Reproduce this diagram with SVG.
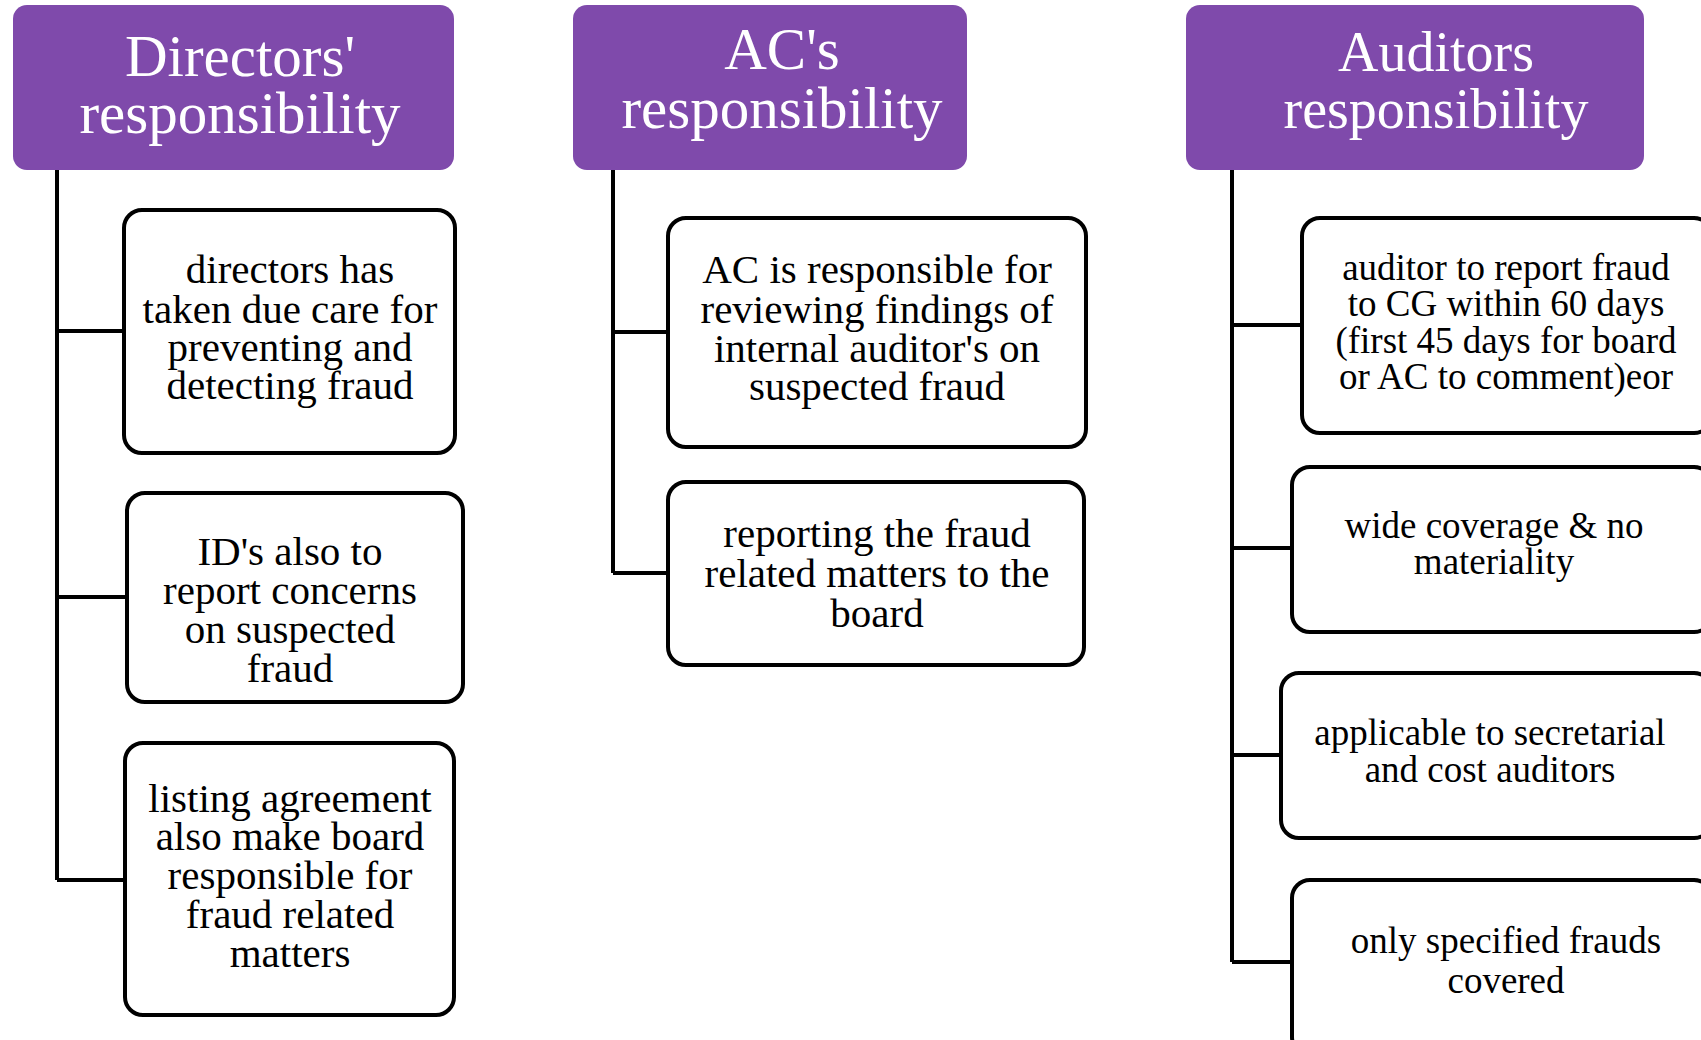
<svg xmlns="http://www.w3.org/2000/svg" width="1701" height="1040" viewBox="0 0 1701 1040">
<style>
  .hdr { fill: #7f4aab; }
  .hdr-t { font-family: "Liberation Serif", "Times New Roman", serif; font-size: 59px; fill: #ffffff; text-anchor: middle; }
  .hdr-s { font-size: 56px; }
  .box { fill: #ffffff; stroke: #000000; stroke-width: 4; }
  .t41 { font-family: "Liberation Serif", "Times New Roman", serif; font-size: 41px; fill: #000000; text-anchor: middle; }
  .t37 { font-family: "Liberation Serif", "Times New Roman", serif; font-size: 37px; fill: #000000; text-anchor: middle; }
  .conn { fill: none; stroke: #000000; stroke-width: 4; stroke-linejoin: miter; }
</style>
<rect width="1701" height="1040" fill="#ffffff"/>

<g id="connectors">
  <path class="conn" d="M57,170 V880 M57,331 H124 M57,597 H127 M57,880 H125"/>
  <path class="conn" d="M613,170 V573 M613,332 H668 M613,573 H668"/>
  <path class="conn" d="M1232,170 V962 M1232,325 H1302 M1232,548 H1292 M1232,755 H1281 M1232,962 H1292"/>
</g>

<g id="hdr-directors">
  <rect class="hdr" x="13" y="5" width="441" height="165" rx="14"/>
  <text class="hdr-t" x="240" y="76">Directors'</text>
  <text class="hdr-t" x="240" y="133">responsibility</text>
</g>
<g id="hdr-ac">
  <rect class="hdr" x="573" y="5" width="394" height="165" rx="14"/>
  <text class="hdr-t" x="782" y="69">AC's</text>
  <text class="hdr-t" x="782" y="128">responsibility</text>
</g>
<g id="hdr-auditors">
  <rect class="hdr" x="1186" y="5" width="458" height="165" rx="14"/>
  <text class="hdr-t hdr-s" x="1436" y="71">Auditors</text>
  <text class="hdr-t hdr-s" x="1436" y="128">responsibility</text>
</g>

<g id="d1">
  <rect class="box" x="124" y="210" width="331" height="243" rx="18"/>
  <text class="t41" x="290" y="283">directors has</text>
  <text class="t41" x="290" y="323">taken due care for</text>
  <text class="t41" x="290" y="361">preventing and</text>
  <text class="t41" x="290" y="399">detecting fraud</text>
</g>
<g id="d2">
  <rect class="box" x="127" y="493" width="336" height="209" rx="18"/>
  <text class="t41" x="290" y="565">ID's also to</text>
  <text class="t41" x="290" y="604">report concerns</text>
  <text class="t41" x="290" y="643">on suspected</text>
  <text class="t41" x="290" y="682">fraud</text>
</g>
<g id="d3">
  <rect class="box" x="125" y="743" width="329" height="272" rx="18"/>
  <text class="t41" x="290" y="812">listing agreement</text>
  <text class="t41" x="290" y="850">also make board</text>
  <text class="t41" x="290" y="889">responsible for</text>
  <text class="t41" x="290" y="928">fraud related</text>
  <text class="t41" x="290" y="967">matters</text>
</g>

<g id="a1">
  <rect class="box" x="668" y="218" width="418" height="229" rx="18"/>
  <text class="t41" x="877" y="283">AC is responsible for</text>
  <text class="t41" x="877" y="323">reviewing findings of</text>
  <text class="t41" x="877" y="362">internal auditor's on</text>
  <text class="t41" x="877" y="400">suspected fraud</text>
</g>
<g id="a2">
  <rect class="box" x="668" y="482" width="416" height="183" rx="18"/>
  <text class="t41" x="877" y="547">reporting the fraud</text>
  <text class="t41" x="877" y="587">related matters to the</text>
  <text class="t41" x="877" y="627">board</text>
</g>

<g id="u1">
  <rect class="box" x="1302" y="218" width="410" height="215" rx="18"/>
  <text class="t37" x="1506" y="280">auditor to report fraud</text>
  <text class="t37" x="1506" y="316">to CG within 60 days</text>
  <text class="t37" x="1506" y="353">(first 45 days for board</text>
  <text class="t37" x="1506" y="389">or AC to comment)eor</text>
</g>
<g id="u2">
  <rect class="box" x="1292" y="467" width="420" height="165" rx="18"/>
  <text class="t37" x="1494" y="538">wide coverage &amp; no</text>
  <text class="t37" x="1494" y="574">materiality</text>
</g>
<g id="u3">
  <rect class="box" x="1281" y="673" width="431" height="165" rx="18"/>
  <text class="t37" x="1490" y="745">applicable to secretarial</text>
  <text class="t37" x="1490" y="782">and cost auditors</text>
</g>
<g id="u4">
  <rect class="box" x="1292" y="880" width="420" height="175" rx="18"/>
  <text class="t37" x="1506" y="953">only specified frauds</text>
  <text class="t37" x="1506" y="993">covered</text>
</g>
</svg>
